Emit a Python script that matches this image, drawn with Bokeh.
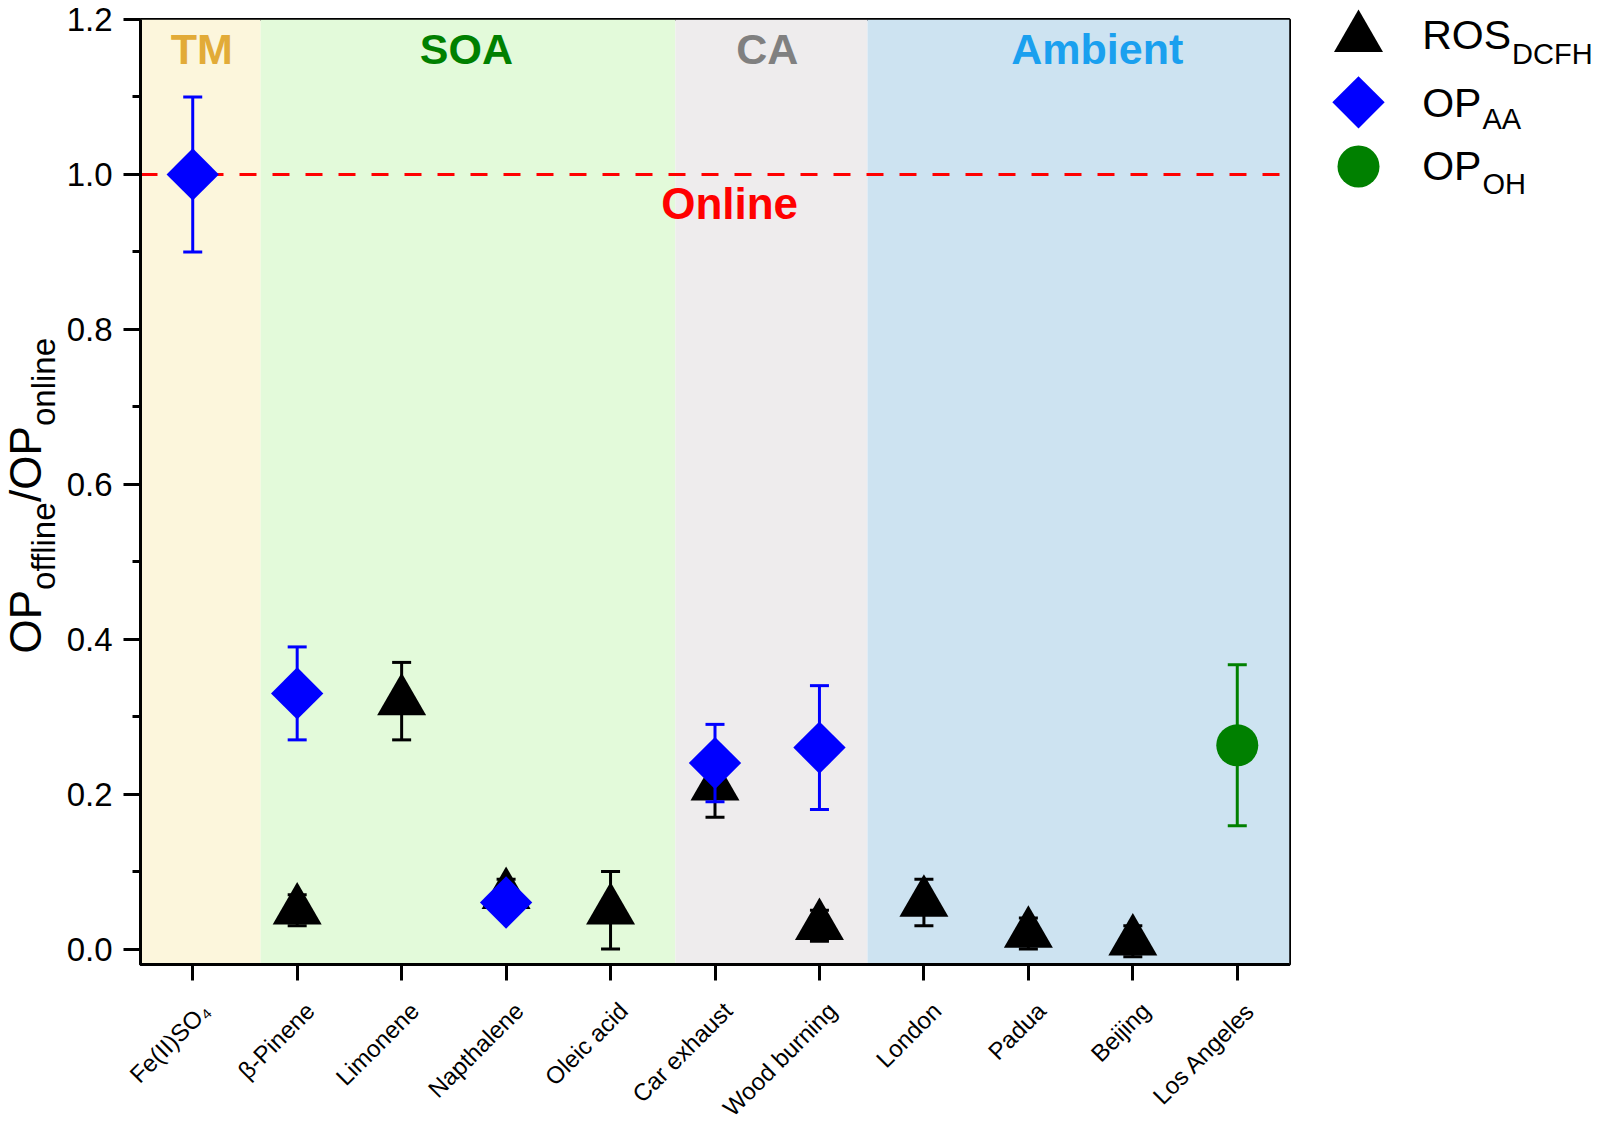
import math
from bokeh.plotting import figure
from bokeh.models import Range1d, FixedTicker, Span, PrintfTickFormatter
from bokeh.layouts import row, column
from bokeh.embed import file_html
from bokeh.resources import INLINE
from bokeh.core.properties import value

# ---------------- data ----------------
categories = ["Fe(II)SO\u2084", "\u03b2-Pinene", "Limonene", "Napthalene", "Oleic acid",
              "Car exhaust", "Wood burning", "London", "Padua", "Beijing", "Los Angeles"]

ros_names = ["\u03b2-Pinene", "Limonene", "Napthalene", "Oleic acid", "Car exhaust",
             "Wood burning", "London", "Padua", "Beijing"]
ros_values = [0.05, 0.32, 0.07, 0.05, 0.21, 0.03, 0.06, 0.02, 0.01]
ros_errors = [0.02, 0.05, 0.02, 0.05, 0.04, 0.02, 0.03, 0.02, 0.02]

aa_names = ["Fe(II)SO\u2084", "\u03b2-Pinene", "Napthalene", "Car exhaust", "Wood burning"]
aa_values = [1.00, 0.33, 0.06, 0.24, 0.26]
aa_errors = [0.10, 0.06, 0.01, 0.05, 0.08]

oh_names = ["Los Angeles"]
oh_values = [0.263]
oh_errors = [0.104]

band_names = ["TM", "SOA", "CA", "Ambient"]
band_starts = [-0.5, 0.65, 4.62, 6.46]
band_ends = [0.65, 4.62, 6.46, 10.5]

online_level = 1.0
online_text = "Online"

y_ticks = [0.0, 0.2, 0.4, 0.6, 0.8, 1.0, 1.2]
y_minor_ticks = [0.1, 0.3, 0.5, 0.7, 0.9, 1.1]

y_label_pieces = [("OP", False), ("offline", True), ("/OP", False), ("online", True)]
legend_main = ["ROS", "OP", "OP"]
legend_sub = ["DCFH", "AA", "OH"]

# ---------------- styles / layout ----------------
FONT = "Liberation Sans"
band_fills = ["#FCF6DC", "#E3FADA", "#EEECED", "#CDE3F1"]
band_text_colors = ["#E2AB38", "#008000", "#808080", "#1AA0EF"]
band_label_x = [0.086, 2.62, 5.5, 8.66]
band_label_y = 1.162
online_label_x, online_label_y = 5.14, 0.963

# Liberation Sans (Arial-metric) advance widths in em, for placing subscripts
EM = {"O": .778, "P": .667, "/": .278, "o": .556, "f": .278, "l": .222, "i": .222,
      "n": .556, "e": .556, "R": .722, "S": .667}
MID = 0.3465          # middle of the text box above the alphabetic baseline, in em


def text_w(s, fs):
    return sum(EM[c] for c in s) * fs


PAGE_W, PAGE_H = 1600, 1123
X0, X1 = -0.5, 10.5
Y0, Y1 = -0.02, 1.2
YL_W = 62                      # y-label strip
LEFT, RIGHT, TOP, BOTTOM = 78, 10, 19, 18
FRAME_W, FRAME_H = 1149, 945
PW = LEFT + FRAME_W + RIGHT
H1 = TOP + FRAME_H + BOTTOM
LEFT_W = YL_W + PW
LEG_W = PAGE_W - LEFT_W
BOT_H = PAGE_H - H1
FRAME_LEFT_PAGE = YL_W + LEFT
FRAME_BOTTOM_PAGE = TOP + FRAME_H
ppx = FRAME_W / (X1 - X0)

# ---------------- main plot ----------------
p = figure(width=PW, height=H1, x_range=Range1d(X0, X1), y_range=Range1d(Y0, Y1),
           title=None, output_backend="svg", toolbar_location=None,
           min_border_left=LEFT, min_border_right=RIGHT,
           min_border_top=TOP, min_border_bottom=BOTTOM)
p.grid.visible = False
p.outline_line_color = "black"
p.outline_line_width = 3
p.background_fill_color = "white"
p.border_fill_color = "white"

p.quad(left=band_starts, right=band_ends, bottom=Y0, top=Y1,
       fill_color=band_fills, line_color=None, level="image")

p.add_layout(Span(location=online_level, dimension="width", line_color="#FF0000",
                  line_width=3, line_dash="17 16", level="underlay"))


def err_series(names, vals, errs, color, marker, size, angle=0.0):
    xs = [categories.index(n) for n in names]
    lo = [v - e for v, e in zip(vals, errs)]
    hi = [v + e for v, e in zip(vals, errs)]
    p.segment(x0=xs, y0=lo, x1=xs, y1=hi, line_color=color, line_width=3)
    p.scatter(xs, lo, marker="dash", size=19, line_color=color, line_width=3)
    p.scatter(xs, hi, marker="dash", size=19, line_color=color, line_width=3)
    p.scatter(xs, vals, marker=marker, size=size, angle=angle,
              fill_color=color, line_color=None)


err_series(ros_names, ros_values, ros_errors, "black", "triangle", 49)
err_series(aa_names, aa_values, aa_errors, "#0000FF", "square", 37, math.pi / 4)
err_series(oh_names, oh_values, oh_errors, "#008000", "circle", 42)

p.text(x=band_label_x, y=[band_label_y] * len(band_names), text=band_names,
       text_color=band_text_colors, text_font=value(FONT), text_font_style="bold",
       text_font_size="43px", text_align="center", text_baseline="middle")
p.text(x=[online_label_x], y=[online_label_y], text=[online_text], text_color="#FF0000",
       text_font=value(FONT), text_font_style="bold", text_font_size="44px",
       text_align="center", text_baseline="middle")

for ax in (p.xaxis, p.yaxis):
    ax.axis_line_width = 3
    ax.axis_line_color = "black"
    ax.major_tick_line_width = 3
    ax.major_tick_line_color = "black"
    ax.major_tick_in = 0
    ax.minor_tick_in = 0
    ax.major_label_text_font = FONT

p.xaxis.ticker = FixedTicker(ticks=list(range(len(categories))))
p.xaxis.major_tick_out = 16
p.xaxis.minor_tick_line_color = None
p.xaxis.major_label_text_color = None
p.xaxis.major_label_text_font_size = "1px"
p.xaxis.major_label_standoff = 0

p.yaxis.ticker = FixedTicker(ticks=y_ticks, minor_ticks=y_minor_ticks)
p.yaxis.formatter = PrintfTickFormatter(format="%.1f")
p.yaxis.major_tick_out = 17
p.yaxis.minor_tick_out = 8
p.yaxis.minor_tick_line_width = 3
p.yaxis.minor_tick_line_color = "black"
p.yaxis.major_label_text_font_size = "33px"
p.yaxis.major_label_text_color = "black"
p.yaxis.major_label_standoff = 11


def strip(w, h, xr, yr, top=0, bottom=0):
    f = figure(width=w, height=h, x_range=xr, y_range=yr, title=None,
               x_axis_type=None, y_axis_type=None, output_backend="svg",
               toolbar_location=None, min_border=0, min_border_top=top,
               min_border_bottom=bottom, outline_line_color=None)
    f.background_fill_color = "white"
    f.border_fill_color = "white"
    f.grid.visible = False
    return f


# ---------------- y-axis title strip (frame aligned with the main frame) -------------
# data y = H1 - page y
ylab = strip(YL_W, H1, Range1d(0, YL_W), Range1d(H1 - FRAME_BOTTOM_PAGE, H1 - TOP),
             top=TOP, bottom=BOTTOM)
MAIN_FS, SUB_FS = 44, 33
yl_x, yl_y, yl_t, yl_fs = [], [], [], []
pos = H1 - 653.0
for txt, is_sub in y_label_pieces:
    fs = SUB_FS if is_sub else MAIN_FS
    base = 54.8 if is_sub else 39.8
    yl_x.append(base - MID * fs)
    yl_y.append(pos)
    yl_t.append(txt)
    yl_fs.append(f"{fs}px")
    pos += text_w(txt, fs)
ylab.text(x=yl_x, y=yl_y, text=yl_t, text_font_size=yl_fs, angle=math.pi / 2,
          text_font=value(FONT), text_color="black", text_align="left",
          text_baseline="middle")

# ---------------- category labels strip (same x scale as the frame) ----------------
bot = strip(LEFT_W, BOT_H,
            Range1d(X0 - FRAME_LEFT_PAGE / ppx, X0 + (LEFT_W - FRAME_LEFT_PAGE) / ppx),
            Range1d(0, BOT_H))
label_page_y = FRAME_BOTTOM_PAGE + 42
bot.text(x=[i + 13 / ppx for i in range(len(categories))],
         y=[BOT_H - (label_page_y - H1)] * len(categories),
         text=categories, angle=math.pi / 4, text_align="right", text_baseline="middle",
         text_font=value(FONT), text_font_size="24px", text_color="black")

# ---------------- legend panel (data y = PAGE_H - page y, x = page x - LEFT_W) -------
leg = strip(LEG_W, PAGE_H, Range1d(0, LEG_W), Range1d(0, PAGE_H))
marker_x = 59
marker_page_y = [37.3, 101.8, 166.0]
my = [PAGE_H - v for v in marker_page_y]
leg.scatter([marker_x], [my[0]], marker="triangle", size=49,
            fill_color="black", line_color=None)
leg.scatter([marker_x], [my[1]], marker="square", size=37, angle=math.pi / 4,
            fill_color="#0000FF", line_color=None)
leg.scatter([marker_x], [my[2]], marker="circle", size=42,
            fill_color="#008000", line_color=None)
LEG_FS, LEG_SUB_FS = 41, 29
text_x = 122.7
main_mid = [34.2, 102.4, 165.9]
sub_mid = [53.0, 118.0, 183.0]
leg.text(x=[text_x] * 3, y=[PAGE_H - v for v in main_mid], text=legend_main,
         text_color="black", text_font=value(FONT), text_font_size=f"{LEG_FS}px",
         text_align="left", text_baseline="middle")
leg.text(x=[text_x + text_w(t, LEG_FS) + 1 for t in legend_main],
         y=[PAGE_H - v for v in sub_mid], text=legend_sub, text_color="black",
         text_font=value(FONT), text_font_size=f"{LEG_SUB_FS}px", text_align="left",
         text_baseline="middle")

layout = row(column(row(ylab, p), bot), leg)
open("out.html", "w").write(file_html(layout, INLINE))
